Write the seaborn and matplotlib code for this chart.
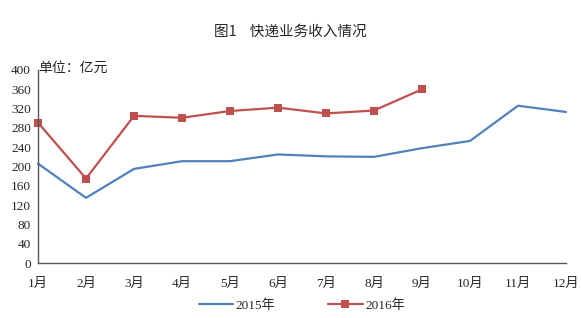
import matplotlib
matplotlib.use("Agg")
import matplotlib.pyplot as plt
import seaborn as sns
import pandas as pd

months = ["1月", "2月", "3月", "4月", "5月", "6月", "7月", "8月", "9月", "10月", "11月", "12月"]
v2015 = [206, 135, 195, 211, 211, 225, 221, 220, 238, 253, 326, 313]
v2016 = [291, 175, 305, 301, 315, 322, 310, 316, 360]
yticks = list(range(0, 401, 40))

sns.set_theme(style="white")
plt.rcParams['font.family'] = ['Liberation Serif', 'Noto Sans CJK SC', 'DejaVu Sans']

df15 = pd.DataFrame({"x": range(len(v2015)), "y": v2015})
df16 = pd.DataFrame({"x": range(len(v2016)), "y": v2016})

fig = plt.figure(figsize=(5.81, 3.18), dpi=100)
ax = fig.add_axes([38/581, 1 - 263/318, (566-38)/581, (263-70)/318])

sns.lineplot(data=df15, x="x", y="y", ax=ax, color="#4F81BD", linewidth=1.6, label="2015年")
sns.lineplot(data=df16, x="x", y="y", ax=ax, color="#C0504D", linewidth=1.6,
             marker="s", markersize=5.5, markeredgewidth=0, label="2016年")

ax.set_xlim(0, 11)
ax.set_ylim(0, 400)
ax.set_xticks(range(12))
ax.set_xticklabels(months, fontsize=9.5)
ax.set_yticks(yticks)
ax.set_yticklabels([str(t) for t in yticks], fontsize=9.5)
ax.set_xlabel("")
ax.set_ylabel("")
for s in ["top", "right"]:
    ax.spines[s].set_visible(False)
for s in ["left", "bottom"]:
    ax.spines[s].set_color("#555555")
    ax.spines[s].set_linewidth(1.0)
ax.tick_params(axis="x", direction="in", length=3, width=0.8, color="#555555", pad=11)
ax.tick_params(axis="y", length=0, pad=5)
for line in ax.lines:
    line.set_clip_on(False)

fig.text(0.5, 1 - 32/318, "图1    快递业务收入情况", ha="center", va="center", fontsize=10.5,
         family=['Noto Sans CJK SC', 'DejaVu Sans'])
fig.text(38/581, 1 - 68/318, "单位：亿元", ha="left", va="center", fontsize=10,
         family=['Noto Sans CJK SC', 'DejaVu Sans'])

leg = ax.legend(loc="center", bbox_to_anchor=(0.5, -0.22), ncol=2, frameon=False,
                fontsize=9.5, handlelength=2.6, columnspacing=4, handletextpad=0.2)

fig.savefig("out.png", dpi=100)
